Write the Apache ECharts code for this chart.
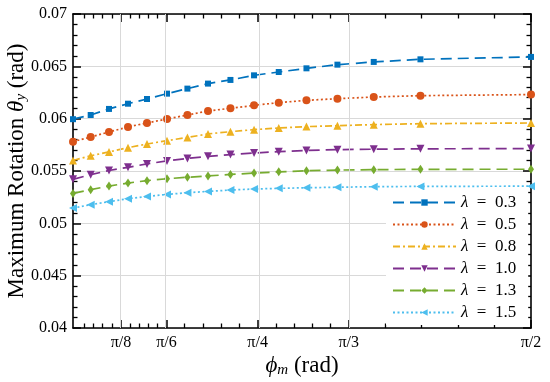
<!DOCTYPE html>
<html><head><meta charset="utf-8">
<script src="https://cdn.jsdelivr.net/npm/echarts@6/dist/echarts.min.js"></script>
<style>html,body{margin:0;padding:0;background:#fff}#c{width:550px;height:382px}</style>
</head><body><div id="c"></div>
<script>
// ---- data ----
const phi = [0.255, 0.3058, 0.3584, 0.4130, 0.4676, 0.5251, 0.5837, 0.6429, 0.7073, 0.7751, 0.8461, 0.9257, 1.0147, 1.1190, 1.2532, 1.5708];
const lambdaLabels = ['0.3', '0.5', '0.8', '1.0', '1.3', '1.5'];
const theta03 = [0.05995, 0.06035, 0.06093, 0.06143, 0.06188, 0.06239, 0.06287, 0.06335, 0.0637, 0.06414, 0.06446, 0.06481, 0.06516, 0.06542, 0.06567, 0.0659];
const theta05 = [0.0578, 0.05825, 0.05873, 0.05921, 0.05959, 0.05997, 0.06035, 0.06074, 0.06099, 0.06127, 0.06153, 0.06175, 0.06191, 0.06207, 0.0622, 0.0623];
const theta08 = [0.0560, 0.05646, 0.05682, 0.05723, 0.05758, 0.0579, 0.05821, 0.05854, 0.05876, 0.05895, 0.05911, 0.05924, 0.05933, 0.05943, 0.05952, 0.05959];
const theta10 = [0.0542, 0.05465, 0.05505, 0.05535, 0.05568, 0.05596, 0.0562, 0.0564, 0.05657, 0.05672, 0.05685, 0.05697, 0.05704, 0.05708, 0.05712, 0.05714];
const theta13 = [0.05286, 0.05322, 0.05356, 0.05385, 0.05408, 0.05426, 0.0544, 0.05453, 0.05467, 0.0548, 0.05492, 0.05502, 0.05509, 0.05513, 0.05516, 0.05517];
const theta15 = [0.05146, 0.05178, 0.05207, 0.05235, 0.05257, 0.05276, 0.05293, 0.05305, 0.05318, 0.05328, 0.05334, 0.0534, 0.05345, 0.0535, 0.05353, 0.05355];
const xMajorTicks = [Math.PI/8, Math.PI/6, Math.PI/4, Math.PI/3, Math.PI/2];
const xMajorLabels = ['π/8', 'π/6', 'π/4', 'π/3', 'π/2'];
const xMinorTicks = [
  Math.PI/8 - 4*Math.PI/120, Math.PI/8 - 3*Math.PI/120, Math.PI/8 - 2*Math.PI/120, Math.PI/8 - Math.PI/120,
  Math.PI/8 + Math.PI/120, Math.PI/8 + 2*Math.PI/120, Math.PI/8 + 3*Math.PI/120, Math.PI/8 + 4*Math.PI/120,
  Math.PI/6 + Math.PI/60, Math.PI/6 + 2*Math.PI/60, Math.PI/6 + 3*Math.PI/60, Math.PI/6 + 4*Math.PI/60,
  Math.PI/4 + Math.PI/60, Math.PI/4 + 2*Math.PI/60, Math.PI/4 + 3*Math.PI/60, Math.PI/4 + 4*Math.PI/60,
  Math.PI/3 + Math.PI/30, Math.PI/3 + 2*Math.PI/30, Math.PI/3 + 3*Math.PI/30, Math.PI/3 + 4*Math.PI/30
];
const yMin = 0.04, yMax = 0.07, yStep = 0.005;
const xMin = 0.255, xMax = Math.PI/2;

// ---- styling ----
const FONT = 'Liberation Serif';
const colors = ['#0072BD', '#D95319', '#EDB120', '#7E2F8E', '#77AC30', '#4DBEEE'];
const allTheta = [theta03, theta05, theta08, theta10, theta13, theta15];
const symbols = ['rect', 'circle', 'triangle', 'triangle', 'diamond', 'triangle'];
const symbolSizes = [6, 8, 8, 8, [6, 9], 8];
const symbolRot = [0, 0, 0, 180, 0, 90];
const dashes = [[11, 6], [2, 2.5], [7, 3, 2, 3], [11, 6], [11, 6], [2, 2.5]];

const gridRect = {left: 73, right: 19, top: 14, bottom: 54, outerBoundsMode: 'none', containLabel: false};
const axisLine = {show: true, lineStyle: {color: '#000', width: 1.6}};

const series = allTheta.map((arr, k) => ({
  name: 'λ = ' + lambdaLabels[k],
  type: 'line',
  xAxisIndex: 0, yAxisIndex: 0,
  z: 3,
  data: phi.map((x, i) => [x, arr[i]]),
  symbol: symbols[k],
  symbolSize: symbolSizes[k],
  symbolRotate: symbolRot[k],
  showSymbol: true,
  clip: false,
  lineStyle: {color: colors[k], width: 1.7, type: dashes[k]},
  itemStyle: {color: colors[k]},
  emphasis: {disabled: true}
}));

// vertical grid lines at the major x ticks
series.unshift({
  name: '_grid', type: 'line', xAxisIndex: 0, yAxisIndex: 0, z: 1,
  data: [], silent: true,
  markLine: {
    silent: true, symbol: ['none', 'none'], animation: false,
    label: {show: false},
    lineStyle: {color: '#d9d9d9', width: 1, type: 'solid'},
    emphasis: {disabled: true},
    data: xMajorTicks.slice(0, 4).map(v => ({xAxis: v}))
  }
});

function xLab(v) {
  let best = 0;
  xMajorTicks.forEach((t, i) => { if (Math.abs(t - v) < Math.abs(xMajorTicks[best] - v)) best = i; });
  return xMajorLabels[best];
}

const titleRich = {
  i: {fontStyle: 'italic', fontFamily: FONT, fontSize: 23, lineHeight: 25},
  sub: {fontStyle: 'italic', fontFamily: FONT, fontSize: 15, lineHeight: 16, verticalAlign: 'bottom'}
};

const chart = echarts.init(document.getElementById('c'));
chart.setOption({
  animation: false,
  backgroundColor: '#fff',
  grid: [Object.assign({}, gridRect), Object.assign({}, gridRect)],
  xAxis: [
    {gridIndex: 0, type: 'value', position: 'bottom', min: xMin, max: xMax,
     axisLine: axisLine,
     axisTick: {show: true, inside: true, length: 8, customValues: xMajorTicks, lineStyle: {color: '#000', width: 1.5}},
     axisLabel: {show: true, customValues: xMajorTicks, formatter: xLab, color: '#000', fontFamily: FONT, fontSize: 16, margin: 7},
     splitLine: {show: false},
     name: '{i|ϕ}{sub|m} (rad)', nameLocation: 'middle', nameGap: 25, nameMoveOverlap: false,
     nameTextStyle: {color: '#000', fontFamily: FONT, fontSize: 23, lineHeight: 25, rich: titleRich}
    },
    {gridIndex: 0, type: 'value', position: 'top', min: xMin, max: xMax,
     axisLine: axisLine,
     axisTick: {show: true, inside: true, length: 8, customValues: xMajorTicks, lineStyle: {color: '#000', width: 1.5}},
     axisLabel: {show: false}, splitLine: {show: false}},
    {gridIndex: 1, type: 'value', position: 'bottom', min: xMin, max: xMax,
     axisLine: {show: false},
     axisTick: {show: true, inside: true, length: 4.5, customValues: xMinorTicks, lineStyle: {color: '#000', width: 1.3}},
     axisLabel: {show: false}, splitLine: {show: false}},
    {gridIndex: 1, type: 'value', position: 'top', min: xMin, max: xMax,
     axisLine: {show: false},
     axisTick: {show: true, inside: true, length: 4.5, customValues: xMinorTicks, lineStyle: {color: '#000', width: 1.3}},
     axisLabel: {show: false}, splitLine: {show: false}}
  ],
  yAxis: [
    {gridIndex: 0, type: 'value', position: 'left', min: yMin, max: yMax, interval: yStep,
     axisLine: axisLine,
     axisTick: {show: true, inside: true, length: 8, lineStyle: {color: '#000', width: 1.5}},
     minorTick: {show: true, splitNumber: 5, length: 4.5, lineStyle: {color: '#000', width: 1.3}},
     axisLabel: {color: '#000', fontFamily: FONT, fontSize: 16, margin: 6, formatter: v => String(+v.toFixed(3))},
     splitLine: {show: true, lineStyle: {color: '#d9d9d9', width: 1}},
     name: 'Maximum Rotation {i|θ}{sub|y} (rad)', nameLocation: 'middle', nameGap: 44, nameMoveOverlap: false,
     nameTextStyle: {color: '#000', fontFamily: FONT, fontSize: 23, lineHeight: 25, rich: titleRich}
    },
    {gridIndex: 0, type: 'value', position: 'right', min: yMin, max: yMax, interval: yStep,
     axisLine: axisLine,
     axisTick: {show: true, inside: true, length: 8, lineStyle: {color: '#000', width: 1.5}},
     minorTick: {show: true, splitNumber: 5, length: 4.5, lineStyle: {color: '#000', width: 1.3}},
     axisLabel: {show: false}, splitLine: {show: false}},
    {gridIndex: 1, type: 'value', show: false, min: yMin, max: yMax}
  ],
  legend: {
    orient: 'vertical', left: 386, top: 190, z: 10,
    padding: [4, 12, 4, 6], backgroundColor: '#fff',
    itemWidth: 63, itemHeight: 8, itemGap: 5, itemTextGap: 6,
    formatter: name => '{i|λ}\u2002=\u2002' + name.split('= ')[1],
    textStyle: {color: '#000', fontFamily: FONT, fontSize: 17, lineHeight: 16,
      rich: {i: {fontStyle: 'italic', fontFamily: FONT, fontSize: 17, lineHeight: 16}}},
    data: series.filter(s => s.name !== '_grid').map(s => s.name)
  },
  series: series
});
</script></body></html>
